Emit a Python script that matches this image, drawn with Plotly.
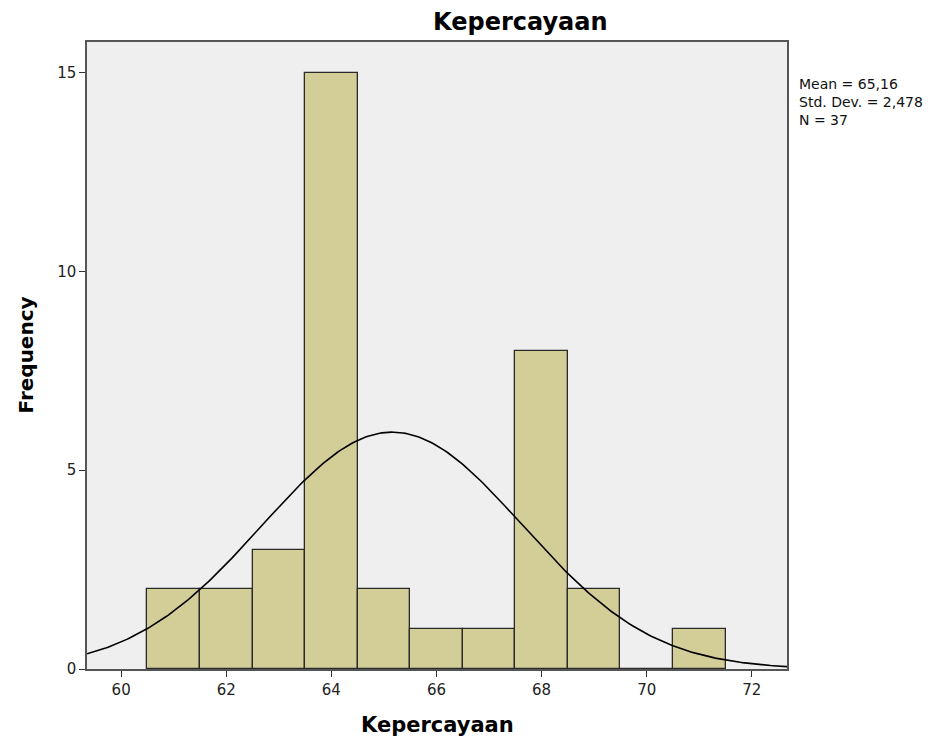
import numpy as np
import plotly.graph_objects as go

# histogram bins (centre of each 1-unit bin) and counts
bin_centers = [61, 62, 63, 64, 65, 66, 67, 68, 69, 70, 71]
frequencies = [2, 2, 3, 15, 2, 1, 1, 8, 2, 0, 1]

# summary stats shown in the chart
mean = 65.16
std_dev = 2.478
n = 37
bin_width = 1

x_ticks = [60, 62, 64, 66, 68, 70, 72]
y_ticks = [0, 5, 10, 15]

# fitted normal curve, scaled to counts
curve_x = np.linspace(59.35, 72.67, 300)
curve_y = n * bin_width / (std_dev * np.sqrt(2 * np.pi)) * np.exp(-0.5 * ((curve_x - mean) / std_dev) ** 2)

fig = go.Figure()

fig.add_trace(go.Bar(
    x=bin_centers, y=frequencies, width=bin_width,
    marker=dict(color='#D3CE97', line=dict(color='#2a2a2a', width=1.3)),
    hoverinfo='x+y'
))

fig.add_trace(go.Scatter(
    x=curve_x, y=curve_y, mode='lines',
    line=dict(color='black', width=1.6),
    hoverinfo='skip'
))

# page body adds an 8px offset, so the figure is a bit smaller than the window
fig.update_layout(
    width=938, height=736,
    margin=dict(l=79, r=159, t=34, b=75),
    paper_bgcolor='white',
    plot_bgcolor='#EFEFEF',
    showlegend=False,
    font=dict(family='DejaVu Sans, sans-serif', size=15, color='#222'),
    title=dict(text='Kepercayaan', xref='paper', x=0.619, xanchor='center', y=0.981, yanchor='middle',
               font=dict(family='DejaVu Sans, sans-serif', size=24, color='black', weight='bold')),
    bargap=0,
)

fig.update_xaxes(
    range=[59.35, 72.67], tickvals=x_ticks, ticks='outside', ticklen=6, tickwidth=1.3,
    tickcolor='#333', showgrid=False, zeroline=False,
    showline=True, linecolor='#555', linewidth=1.5, mirror=True,
)
fig.update_yaxes(
    range=[0, 15.77], tickvals=y_ticks, ticks='outside', ticklen=6, tickwidth=1.3,
    tickcolor='#333', showgrid=False, zeroline=False,
    showline=True, linecolor='#555', linewidth=1.5, mirror=True,
)

# axis titles
fig.add_annotation(text='Kepercayaan', xref='paper', yref='paper', x=0.5, y=0,
                   yshift=-56, yanchor='middle', showarrow=False,
                   font=dict(family='DejaVu Sans, sans-serif', size=21, color='black', weight='bold'))
fig.add_annotation(text='Frequency', xref='paper', yref='paper', x=0, y=0.5,
                   xshift=-62, xanchor='center', textangle=-90, showarrow=False,
                   font=dict(family='DejaVu Sans, sans-serif', size=20, color='black', weight='bold'))

fig.add_annotation(
    text='Mean = 65,16<br>Std. Dev. = 2,478<br>N = 37',
    xref='paper', yref='paper', x=1, y=1, xshift=10, yshift=-32, xanchor='left', yanchor='top',
    align='left', showarrow=False, font=dict(family='DejaVu Sans, sans-serif', size=14, color='#111')
)

fig.write_html("out.html")
